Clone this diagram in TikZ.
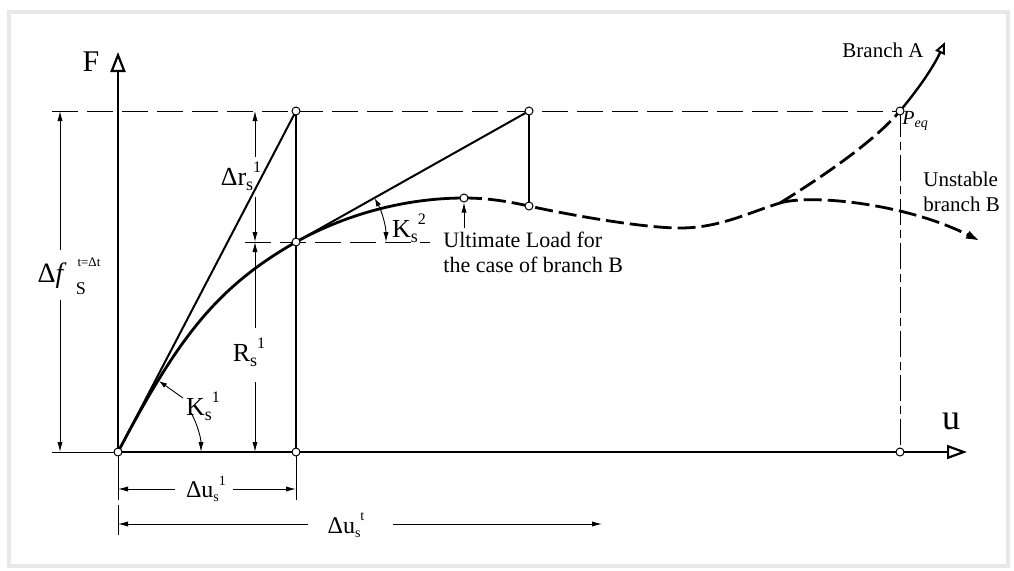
\documentclass[tikz,border=0pt]{standalone}
\usepackage{fontspec}
\setmainfont{Liberation Serif}
\usetikzlibrary{arrows.meta}
\newcommand{\lo}[2][9]{\raisebox{-0.35ex}{\fontsize{#1}{#1}\selectfont #2}}
\newcommand{\hi}[2][8]{\raisebox{1.15ex}{\fontsize{#1}{#1}\selectfont #2}}
\begin{document}
\begin{tikzpicture}[x=0.5pt,y=-0.5pt,
  dimline/.style={line width=0.45pt},
  dimarrow/.style={dimline,-{Latex[length=5pt,width=2.6pt]}},
  ptc/.style={circle,draw,fill=white,inner sep=0pt,minimum size=4pt,line width=0.5pt},
  refdash/.style={line width=0.5pt,dash pattern=on 13pt off 4.5pt},
  curvedash/.style={line width=1.4pt,dash pattern=on 9pt off 3pt},
  axisline/.style={line width=1.4pt},
  lbl/.style={inner sep=0pt,font=\fontsize{13}{13}\selectfont},
  txt/.style={inner sep=0pt,font=\fontsize{11}{12.5}\selectfont,align=left}]
\useasboundingbox (0,0) rectangle (1014,570);
\draw[gray!18,line width=2pt] (9,12) rectangle (1008,566);

% key points
\coordinate (O) at (118,452);
\coordinate (A1) at (296,111);
\coordinate (C1) at (296,242);
\coordinate (B1) at (296,452);
\coordinate (A2) at (529,111);
\coordinate (C2) at (529,206);
\coordinate (Pk) at (464,198);
\coordinate (Mn) at (680,228);
\coordinate (X) at (780,203);
\coordinate (Pq) at (900,111);
\coordinate (Ue) at (900,452);
\coordinate (Fend) at (118,52);
\coordinate (Uend) at (967,452);
\coordinate (Text) at (52,111);
\coordinate (Lext) at (52,452);
\coordinate (Bend) at (980,241);
\coordinate (Aend) at (945,42);

% reference lines
\draw[refdash] (Text) -- (Pq);
\coordinate (h2a) at (245,242); \coordinate (h2b) at (430,242);
\draw[refdash] (h2a) -- (h2b);
\draw[line width=0.5pt,dash pattern=on 13pt off 2.5pt on 4pt off 2.5pt] (Pq) -- (Ue);
\draw[dimline] (Lext) -- (O);

% dimension: Delta f
\coordinate (dfT) at (60,111); \coordinate (dfB) at (60,452);
\coordinate (dfG1) at (60,250); \coordinate (dfG2) at (60,300);
\draw[dimarrow] (dfG1) -- (dfT);
\draw[dimarrow] (dfG2) -- (dfB);
% dimension: Delta r and R
\coordinate (drT) at (255,111); \coordinate (drG1) at (255,157);
\coordinate (drG2) at (255,197); \coordinate (drB) at (255,242);
\coordinate (RG1) at (255,328); \coordinate (RG2) at (255,382); \coordinate (RB) at (255,452);
\draw[dimarrow] (drG1) -- (drT);
\draw[dimarrow] (drG2) -- (drB);
\draw[dimarrow] (RG1) -- (drB);
\draw[dimarrow] (RG2) -- (RB);
% dimension: Delta u
\coordinate (e1a) at (118,456); \coordinate (e1b) at (118,500);
\coordinate (e2a) at (296,456); \coordinate (e2b) at (296,500);
\coordinate (e3a) at (118,505); \coordinate (e3b) at (118,535);
\draw[dimline] (e1a) -- (e1b);
\draw[dimline] (e2a) -- (e2b);
\draw[dimline] (e3a) -- (e3b);
\coordinate (u1L) at (118,489); \coordinate (u1g1) at (175,489);
\coordinate (u1g2) at (233,489); \coordinate (u1R) at (296,489);
\draw[dimarrow] (u1g1) -- (u1L);
\draw[dimarrow] (u1g2) -- (u1R);
\coordinate (utL) at (118,524); \coordinate (utg1) at (308,524);
\coordinate (utg2) at (393,524); \coordinate (utR) at (602,524);
\draw[dimarrow] (utg1) -- (utL);
\draw[dimarrow] (utg2) -- (utR);

% axes
\draw[axisline,-{Triangle[open,length=10pt,width=7.5pt,line width=1.1pt]}] (O) -- (Fend);
\draw[axisline,-{Triangle[open,length=10pt,width=7pt,line width=1.1pt]}] (O) -- (Uend);

% tangent / secant lines
\draw[line width=1pt] (O) -- (A1);
\draw[line width=1.4pt] (A1) -- (B1);
\draw[line width=1pt] (C1) -- (A2);
\draw[line width=1.1pt] (A2) -- (C2);

% load-displacement curve
\draw[line width=1.4pt] (O) .. controls (177,340) and (215,288) .. (C1)
  .. controls (350,212) and (410,198) .. (Pk);
\draw[curvedash] (Pk) .. controls (490,198) and (510,202) .. (C2)
  .. controls (560,213) and (640,228) .. (Mn)
  .. controls (720,228) and (750,212) .. (X);
\draw[curvedash,-{Latex[length=7pt,width=4.5pt]}] (X) .. controls (810,194) and (905,203) .. (Bend);
\draw[curvedash] (X) .. controls (830,172) and (875,140) .. (Pq);
\draw[line width=1.2pt,-{Triangle[open,length=6pt,width=5pt,line width=1pt]}] (Pq) .. controls (915,93) and (932,70) .. (Aend);

% angle arcs
\draw[dimline,-{Latex[length=5pt,width=2.6pt]}] (O) ++(-28:83) arc[start angle=-28,end angle=0,radius=83];
\draw[dimline,{Latex[length=4pt,width=2.6pt]}-{Latex[length=5pt,width=2.6pt]}] (C1) ++(-29:90) arc[start angle=-29,end angle=0,radius=90];
\coordinate (k1L) at (183,398); \coordinate (k1P) at (159,381);
\draw[dimline,-{Latex[length=4pt,width=2.6pt]}] (k1L) -- (k1P);

% circles
\node[ptc] (nO) at (O) {};
\node[ptc] (nA1) at (A1) {};
\node[ptc] (nC1) at (C1) {};
\node[ptc] (nB1) at (B1) {};
\node[ptc] (nA2) at (A2) {};
\node[ptc] (nC2) at (C2) {};
\node[ptc] (nPk) at (Pk) {};
\node[ptc] (nPq) at (Pq) {};
\node[ptc] (nUe) at (Ue) {};
\coordinate (ultS) at (464,228);
\draw[dimarrow] (ultS) -- (nPk.south);

% labels
\node[inner sep=0pt,font=\fontsize{15}{15}\selectfont] (lF) at (91,62) {F};
\node[inner sep=0pt,font=\fontsize{18}{18}\selectfont] (lu) at (951,421) {u};
\node[lbl] (ldr) at (241,176) {Δr\lo{s}\hi{1}};
\node[lbl] (lR) at (249,352) {R\lo{s}\hi{1}};
\node[lbl] (lK1) at (203,406) {K\lo{s}\hi{1}};
\node[lbl] (lK2) at (409,228) {K\lo{s}\hi{2}};
\node[lbl,font=\fontsize{12}{12}\selectfont] (lu1) at (206,489) {Δu\lo[7]{s}\hi[7]{1}};
\node[lbl,font=\fontsize{12}{12}\selectfont] (lut) at (346,525) {Δu\lo[7]{s}\hi[7]{t}};
\node[inner sep=0pt,font=\fontsize{14}{14}\selectfont,anchor=east] (ldf) at (67,276) {Δ\textit{f}};
\node[inner sep=0pt,font=\fontsize{6.5}{6.5}\selectfont] (ldfsup) at (89,262) {t=Δt};
\node[inner sep=0pt,font=\fontsize{9}{9}\selectfont] (ldfsub) at (81,289) {S};
\node[txt,anchor=west] (lult) at (443,252) {Ultimate Load for\\the case of branch B};
\node[txt,font=\fontsize{10.5}{12.5}\selectfont] (lbA) at (883,50) {Branch A};
\node[txt,anchor=west,font=\fontsize{10.5}{12.5}\selectfont] (lbB) at (923,192) {Unstable\\branch B};
\node[inner sep=0pt,anchor=west,font=\fontsize{10}{10}\selectfont] (lPq) at (902,121) {\textit{P}\lo[7]{\textit{eq}}};
\end{tikzpicture}
\end{document}
